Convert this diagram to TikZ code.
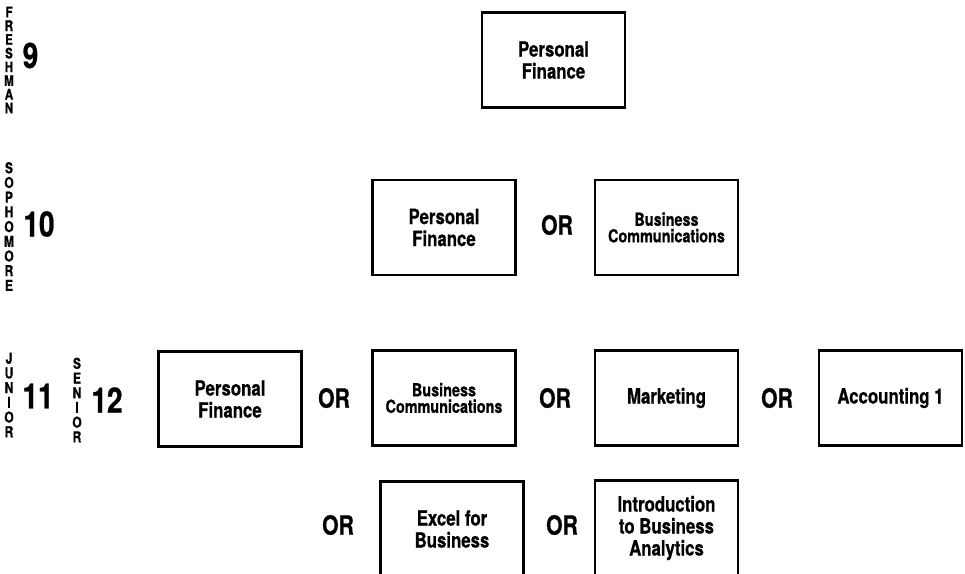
\documentclass[tikz,border=0pt]{standalone}
\usepackage{fontspec}
\setmainfont{TeX Gyre Heros}[FakeStretch=0.8, FakeBold=0.7]

\begin{document}
\begin{tikzpicture}[x=1pt, y=-1pt,
    course/.style ={rectangle, draw, line width=2.2pt, minimum width=143pt, minimum height=95pt, inner sep=0pt, align=center, font=\bfseries\fontsize{21}{22}\selectfont},
    smallcourse/.style ={course, font=\bfseries\fontsize{18}{16.5}\selectfont},
    either/.style ={inner sep=0pt, font=\bfseries\fontsize{26.5}{26.5}\selectfont},
    grade/.style ={inner sep=0pt, font=\bfseries\fontsize{35}{35}\selectfont},
    year/.style ={align=center, inner sep=0pt, font=\bfseries\fontsize{15}{14.7}\selectfont}]
   \useasboundingbox (0,0) rectangle (965,573);
   \clip (0,0) rectangle (965,573);

   \node[year, font=\bfseries\fontsize{14.5}{13.7}\selectfont] (F) at (9,60) {F\\R\\E\\S\\H\\M\\A\\N};
   \node[year] (S)  at (9,226.5) {S\\O\\P\\H\\O\\M\\O\\R\\E};
   \node[year] (J)  at (9,395)   {J\\U\\N\\I\\O\\R};
   \node[year] (Sr) at (77,400)  {S\\E\\N\\I\\O\\R};
   \node[grade] (G9)  at (30.5,55.5) {9};
   \node[grade] (G10) at (39,224)    {10};
   \node[grade] (G11) at (38,396)    {11};
   \node[grade] (G12) at (107,400)   {12};

   \node[course] (PF9)  at (553.5,60)  {Personal\\Finance};

   \node[course]      (PF10) at (444,227.5)   {Personal\\Finance};
   \node[either]      (or10) at (557,225)     {OR};
   \node[smallcourse] (BC10) at (666.5,227.5) {Business\\Communications};

   \node[course]      (PF11) at (230,399)   {Personal\\Finance};
   \node[either]      (or1)  at (334,398)   {OR};
   \node[smallcourse] (BC11) at (444,398)   {Business\\Communications};
   \node[either]      (or2)  at (555,398)   {OR};
   \node[course]      (MK11) at (666.5,398) {Marketing};
   \node[either]      (or3)  at (777,398)   {OR};
   \node[course]      (AC11) at (890.5,398) {Accounting 1};

   \node[either]      (or4)  at (338,525)   {OR};
   \node[course]      (EX11) at (452,529)   {Excel for\\Business};
   \node[either]      (or5)  at (562,525)   {OR};
   \node[course]      (IB11) at (666.5,528) {Introduction\\to Business\\Analytics};
\end{tikzpicture}
\end{document}
